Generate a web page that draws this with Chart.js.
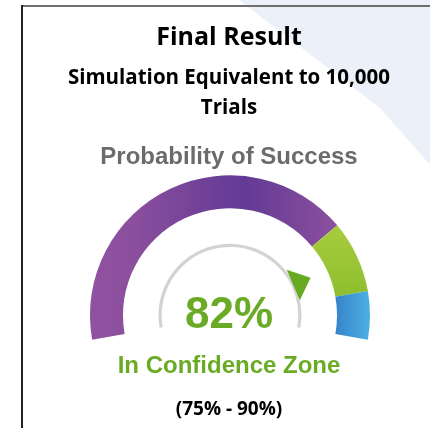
<!DOCTYPE html>
<html>
<head>
<meta charset="utf-8">
<script src="https://cdn.jsdelivr.net/npm/chart.js@4.4.1/dist/chart.umd.min.js"></script>
<style>
  html, body { margin: 0; padding: 0; }
  body { width: 430px; height: 428px; position: relative; overflow: hidden; background: #fff; }
  #shade { position: absolute; left: 0; top: 0; }
  .frame-top { position: absolute; left: 21px; top: 5px; width: 409px; height: 2px; background: #6e6e6e; }
  .frame-left { position: absolute; left: 21px; top: 5px; width: 2px; height: 423px; background: #222; }
  .txt { position: absolute; left: 20px; width: 418px; text-align: center; white-space: nowrap; font-weight: bold; }
  .title { top: 23px; font: bold 25px/25px "Open Sans", sans-serif; color: #000; }
  .subtitle { top: 61px; font: bold 20.5px/30px "Open Sans", sans-serif; color: #000; }
  .gauge-title { top: 144px; font: bold 24px/24px "Liberation Sans", Arial, sans-serif; color: #6b6b6b; }
  .value { top: 291px; font: bold 44px/44px "Liberation Sans", Arial, sans-serif; color: #6aab25; }
  .zone { top: 353px; font: bold 24px/24px "Liberation Sans", Arial, sans-serif; color: #6aab25; }
  .range { top: 399px; font: bold 19px/19px "Open Sans", sans-serif; color: #000; }
  #gauge-wrap { position: absolute; left: 90px; top: 175px; width: 280px; height: 165px; }
</style>
</head>
<body>
<canvas id="shade" width="430" height="428"></canvas>
<div class="frame-top"></div>
<div class="frame-left"></div>

<div class="txt title">Final Result</div>
<div class="txt subtitle">Simulation Equivalent to 10,000<br>Trials</div>
<div class="txt gauge-title">Probability of Success</div>

<div id="gauge-wrap"><canvas id="gauge"></canvas></div>

<div class="txt value" id="value-label"></div>
<div class="txt zone">In Confidence Zone</div>
<div class="txt range" id="range-label"></div>

<script>
// Gauge bands (percent of the 0-100 scale)
const bandLabels = ['Below', 'Confidence Zone', 'Above'];
const bandSizes = [75, 15, 10];
const bandColors = ['#8e509f', '#a2c83a', '#3f96d6'];

// Result
const score = 82;
const zoneLow = 75;
const zoneHigh = 90;

// light diagonal background in the top right corner
const shade = document.getElementById('shade').getContext('2d');
shade.fillStyle = '#ecf0f9';
shade.beginPath();
shade.moveTo(239, 0);
shade.lineTo(380, 108);
shade.lineTo(430, 165);
shade.lineTo(430, 0);
shade.closePath();
shade.fill();

document.getElementById('value-label').textContent = score + '%';
document.getElementById('range-label').textContent = '(' + zoneLow + '% - ' + zoneHigh + '%)';

// Gradient fills for each band
function bandFill(context) {
  const chart = context.chart;
  const area = chart.chartArea;
  if (!area) return bandColors[context.dataIndex];
  const c = chart.ctx;
  let g;
  if (context.dataIndex === 0) {
    g = c.createLinearGradient(area.left, 0, area.right, 0);
    g.addColorStop(0, '#8f52a0');
    g.addColorStop(0.15, '#8b4f9e');
    g.addColorStop(0.55, '#623a95');
    g.addColorStop(0.88, '#8c509e');
    g.addColorStop(1, '#8c509e');
  } else if (context.dataIndex === 1) {
    g = c.createLinearGradient(0, area.top + 45, 0, area.top + 125);
    g.addColorStop(0, '#aacd3f');
    g.addColorStop(1, '#8cbe2e');
  } else {
    g = c.createLinearGradient(area.right - 35, 0, area.right, 0);
    g.addColorStop(0, '#3783c9');
    g.addColorStop(1, '#4cb0e4');
  }
  return g;
}

// Arrow on the inner grey arc, at the end of the score segment
const pointerPlugin = {
  id: 'pointer',
  afterDatasetsDraw(chart) {
    const arc = chart.getDatasetMeta(2).data[0];
    if (!arc) return;
    const ctx = chart.ctx;
    const a = arc.endAngle;
    const r = (arc.innerRadius + arc.outerRadius) / 2;
    const ux = Math.cos(a), uy = Math.sin(a);   // radial
    const tx = -uy, ty = ux;                     // tangent (clockwise)
    const px = arc.x + ux * r, py = arc.y + uy * r;
    ctx.save();
    ctx.fillStyle = '#66aa22';
    ctx.beginPath();
    ctx.moveTo(px + ux * 1 - tx * 16, py + uy * 1 - ty * 16);
    ctx.lineTo(px + ux * 19 + tx * 1.5, py + uy * 19 + ty * 1.5);
    ctx.lineTo(px - ux * 0.5 + tx * 17, py - uy * 0.5 + ty * 17);
    ctx.closePath();
    ctx.fill();
    ctx.restore();
  }
};

new Chart(document.getElementById('gauge'), {
  type: 'doughnut',
  data: {
    labels: bandLabels,
    datasets: [
      {
        data: bandSizes,
        backgroundColor: bandFill,
        borderWidth: 0,
        weight: 33
      },
      {
        // empty space between the bands and the grey track
        data: [100],
        backgroundColor: 'rgba(0,0,0,0)',
        borderWidth: 0,
        weight: 35.5
      },
      {
        data: [score, 100 - score],
        backgroundColor: ['#d3d3d3', '#d3d3d3'],
        borderWidth: 0,
        weight: 3.2
      }
    ]
  },
  options: {
    responsive: true,
    maintainAspectRatio: false,
    animation: false,
    rotation: -100,
    circumference: 200,
    cutout: '48.8%',
    events: [],
    plugins: {
      legend: { display: false },
      tooltip: { enabled: false }
    }
  },
  plugins: [pointerPlugin]
});
</script>
</body>
</html>
